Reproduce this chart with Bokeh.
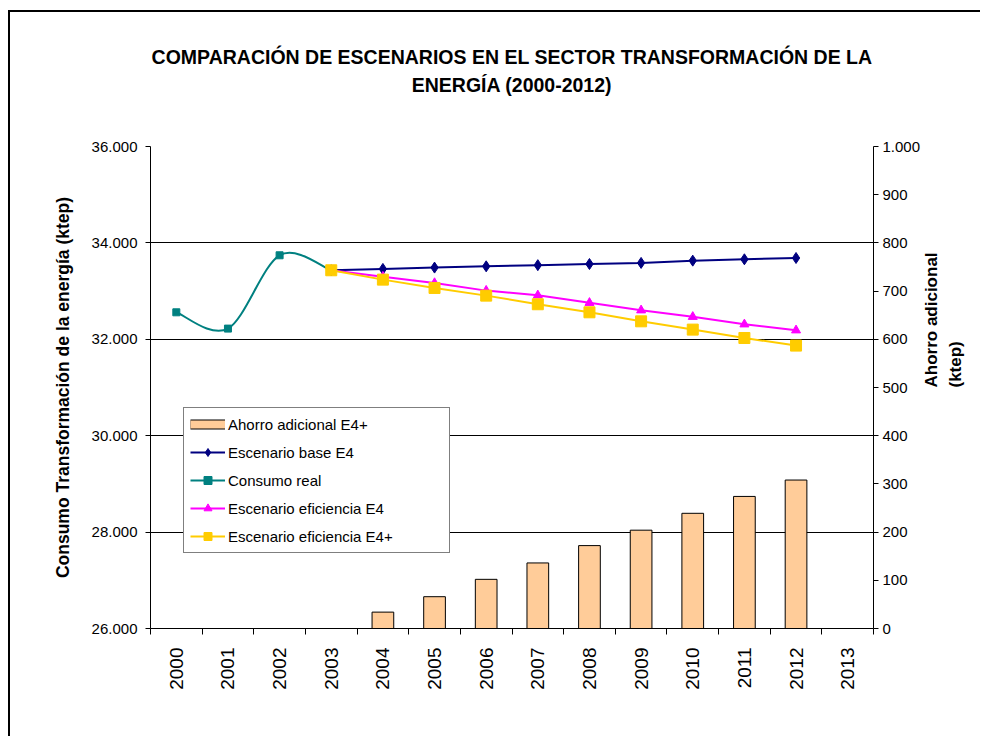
import math
from bokeh.plotting import figure
from bokeh.models import Range1d, LinearAxis, FixedTicker, Legend, LegendItem, Title, ColumnDataSource
from bokeh.embed import file_html
from bokeh.resources import INLINE

# ---------------- data ----------------
years = [2000, 2001, 2002, 2003, 2004, 2005, 2006, 2007, 2008, 2009, 2010, 2011, 2012, 2013]
year_labels = [str(y) for y in years]

real_years = [2000, 2001, 2002, 2003]
real_vals = [32560, 32222, 33743, 33432]

scen_years = [2003, 2004, 2005, 2006, 2007, 2008, 2009, 2010, 2011, 2012]
base_vals = [33432, 33460, 33488, 33514, 33538, 33562, 33585, 33632, 33660, 33687]
e4_vals = [33432, 33300, 33168, 33010, 32913, 32757, 32602, 32467, 32311, 32187]
e4p_vals = [33432, 33238, 33065, 32906, 32727, 32560, 32373, 32201, 32027, 31869]

ahorro_years = [2004, 2005, 2006, 2007, 2008, 2009, 2010, 2011, 2012]
ahorro_vals = [34, 66, 102, 136, 172, 204, 239, 274, 308]

left_ticks = [26000, 28000, 30000, 32000, 34000, 36000]
left_labels = ["26.000", "28.000", "30.000", "32.000", "34.000", "36.000"]
right_ticks = [0, 100, 200, 300, 400, 500, 600, 700, 800, 900, 1000]
right_labels = ["0", "100", "200", "300", "400", "500", "600", "700", "800", "900", "1.000"]

title_line1 = "COMPARACIÓN DE ESCENARIOS EN EL SECTOR TRANSFORMACIÓN DE LA"
title_line2 = "ENERGÍA (2000-2012)"
left_title = "Consumo Transformación de la energía (ktep)"
right_title_lines = ["Ahorro adicional", "(ktep)"]

FONT = "Liberation Sans"

# ---------------- figure ----------------
p = figure(frame_width=723, frame_height=482,
           x_range=Range1d(1999.5, 2013.5), y_range=Range1d(26000, 36000),
           output_backend="svg", toolbar_location=None,
           min_border_left=140, min_border_right=107, min_border_top=134, min_border_bottom=108)
p.title = None
p.styles = {"border-left": "2px solid black", "border-top": "2px solid black",
            "margin-top": "10px", "margin-left": "8px"}
p.outline_line_color = None
p.background_fill_color = "white"
p.border_fill_color = "white"
p.extra_y_ranges = {"right": Range1d(0, 1000)}

# grid
p.xgrid.visible = False
p.ygrid.ticker = FixedTicker(ticks=left_ticks)
p.ygrid.grid_line_color = "black"
p.ygrid.grid_line_width = 1

# x axis
xa = p.xaxis[0]
xa.ticker = FixedTicker(ticks=years, minor_ticks=[y - 0.5 for y in years] + [years[-1] + 0.5])
xa.major_label_overrides = {y: lab for y, lab in zip(years, year_labels)}
xa.major_tick_out = 0
xa.major_tick_in = 0
xa.minor_tick_out = 6
xa.minor_tick_in = 0
xa.minor_tick_line_color = "black"
xa.axis_line_color = "black"
xa.major_label_orientation = math.pi / 2
xa.major_label_standoff = 13
xa.major_label_text_font = FONT
xa.major_label_text_font_size = "19px"
xa.major_label_text_color = "black"

# left axis
ya = p.yaxis[0]
ya.ticker = FixedTicker(ticks=left_ticks)
ya.major_label_overrides = {t: lab for t, lab in zip(left_ticks, left_labels)}
ya.minor_tick_line_color = None
ya.major_tick_out = 5
ya.major_tick_in = 0
ya.major_tick_line_color = "black"
ya.axis_line_color = "black"
ya.major_label_standoff = 8
ya.major_label_text_font = FONT
ya.major_label_text_font_size = "15px"
ya.major_label_text_color = "black"
ya.axis_label = left_title
ya.axis_label_text_font = FONT
ya.axis_label_text_font_size = "17.5px"
ya.axis_label_text_font_style = "bold"
ya.axis_label_text_color = "black"
ya.axis_label_standoff = 16

# right axis (ticks and labels)
ra = LinearAxis(y_range_name="right", ticker=FixedTicker(ticks=right_ticks))
ra.major_label_overrides = {t: lab for t, lab in zip(right_ticks, right_labels)}
ra.minor_tick_line_color = None
ra.major_tick_out = 5
ra.major_tick_in = 0
ra.major_tick_line_color = "black"
ra.axis_line_color = "black"
ra.major_label_standoff = 4
ra.major_label_text_font = FONT
ra.major_label_text_font_size = "15px"
ra.major_label_text_color = "black"
ra.axis_label_standoff = 0
p.add_layout(ra, "right")

# right-axis title: one bare axis per line, reading upwards
for line_text, stand in [(right_title_lines[0], 8), (right_title_lines[1], 2)]:
    ax = LinearAxis(y_range_name="right", ticker=FixedTicker(ticks=[]))
    ax.axis_line_color = None
    ax.major_tick_line_color = None
    ax.minor_tick_line_color = None
    ax.major_tick_out = 0
    ax.minor_tick_out = 0
    ax.major_label_standoff = 0
    ax.axis_label = line_text
    ax.axis_label_orientation = math.pi / 2
    ax.axis_label_standoff = stand
    ax.axis_label_text_font = FONT
    ax.axis_label_text_font_size = "17px"
    ax.axis_label_text_font_style = "bold"
    ax.axis_label_text_color = "black"
    p.add_layout(ax, "right")

# titles: spacer nearest the frame, then line 2, then line 1
p.add_layout(Title(text=" ", align="center", text_font=FONT, text_font_size="19.5px",
                   standoff=27), "above")
p.add_layout(Title(text=title_line2, align="center", text_font=FONT,
                   text_font_size="19.5px", text_font_style="bold", text_color="black",
                   standoff=0), "above")
p.add_layout(Title(text=title_line1, align="center", text_font=FONT,
                   text_font_size="19.5px", text_font_style="bold", text_color="black",
                   standoff=8), "above")

# ---------------- glyphs ----------------
bars = p.vbar(x=ahorro_years, top=ahorro_vals, bottom=0, width=0.42, y_range_name="right",
              fill_color="#FFCC99", line_color="black", line_width=1)
# legend swatch for the bars (thin bar look), not drawn in the plot
bar_sw_edge = p.line(ahorro_years, ahorro_vals, y_range_name="right", line_color="black",
                     line_width=10, visible=False)
bar_sw_fill = p.line(ahorro_years, ahorro_vals, y_range_name="right", line_color="#FFCC99",
                     line_width=8, visible=False)

base_line = p.line(scen_years, base_vals, line_color="#000080", line_width=2)
base_pts = p.scatter(scen_years, base_vals, marker="diamond", size=11,
                     fill_color="#000080", line_color="#000080")

# smoothed curve for the real consumption (Catmull-Rom -> cubic Bezier)
def bezier_segments(xs, ys):
    n = len(xs)
    seg = dict(x0=[], y0=[], x1=[], y1=[], cx0=[], cy0=[], cx1=[], cy1=[])
    for i in range(n - 1):
        xp, yp = (xs[i - 1], ys[i - 1]) if i > 0 else (xs[i], ys[i])
        xn, yn = (xs[i + 2], ys[i + 2]) if i + 2 < n else (xs[i + 1], ys[i + 1])
        seg["x0"].append(xs[i]); seg["y0"].append(ys[i])
        seg["x1"].append(xs[i + 1]); seg["y1"].append(ys[i + 1])
        seg["cx0"].append(xs[i] + (xs[i + 1] - xp) / 6.0)
        seg["cy0"].append(ys[i] + (ys[i + 1] - yp) / 6.0)
        seg["cx1"].append(xs[i + 1] - (xn - xs[i]) / 6.0)
        seg["cy1"].append(ys[i + 1] - (yn - ys[i]) / 6.0)
    return seg

real_src = ColumnDataSource(bezier_segments(real_years, real_vals))
p.bezier(x0="x0", y0="y0", x1="x1", y1="y1", cx0="cx0", cy0="cy0", cx1="cx1", cy1="cy1",
         source=real_src, line_color="#008080", line_width=2)
real_legend_line = p.line(real_years, real_vals, line_color="#008080", line_width=2, visible=False)
real_pts = p.scatter(real_years, real_vals, marker="square", size=7,
                     fill_color="#008080", line_color="#008080")

e4_line = p.line(scen_years, e4_vals, line_color="#FF00FF", line_width=2)
e4_pts = p.scatter(scen_years, e4_vals, marker="triangle", size=9,
                   fill_color="#FF00FF", line_color="#FF00FF")

e4p_line = p.line(scen_years, e4p_vals, line_color="#FFCC00", line_width=2)
e4p_pts = p.scatter(scen_years, e4p_vals, marker="square", size=11,
                    fill_color="#FFCC00", line_color="#FFCC00")

# ---------------- legend ----------------
legend = Legend(items=[
    LegendItem(label="Ahorro adicional E4+", renderers=[bar_sw_edge, bar_sw_fill]),
    LegendItem(label="Escenario base E4", renderers=[base_line, base_pts]),
    LegendItem(label="Consumo real", renderers=[real_legend_line, real_pts]),
    LegendItem(label="Escenario eficiencia E4", renderers=[e4_line, e4_pts]),
    LegendItem(label="Escenario eficiencia E4+", renderers=[e4p_line, e4p_pts]),
], location=(33, 75), orientation="vertical")
legend.padding = 6
legend.spacing = 8
legend.margin = 0
legend.glyph_width = 35
legend.glyph_height = 20
legend.label_height = 20
legend.label_width = 215
legend.label_standoff = 3
legend.label_text_font = FONT
legend.label_text_font_size = "15px"
legend.label_text_color = "black"
legend.border_line_color = "black"
legend.border_line_width = 1
legend.background_fill_color = "white"
legend.background_fill_alpha = 1.0
p.add_layout(legend)

open("out.html", "w").write(file_html(p, INLINE))
